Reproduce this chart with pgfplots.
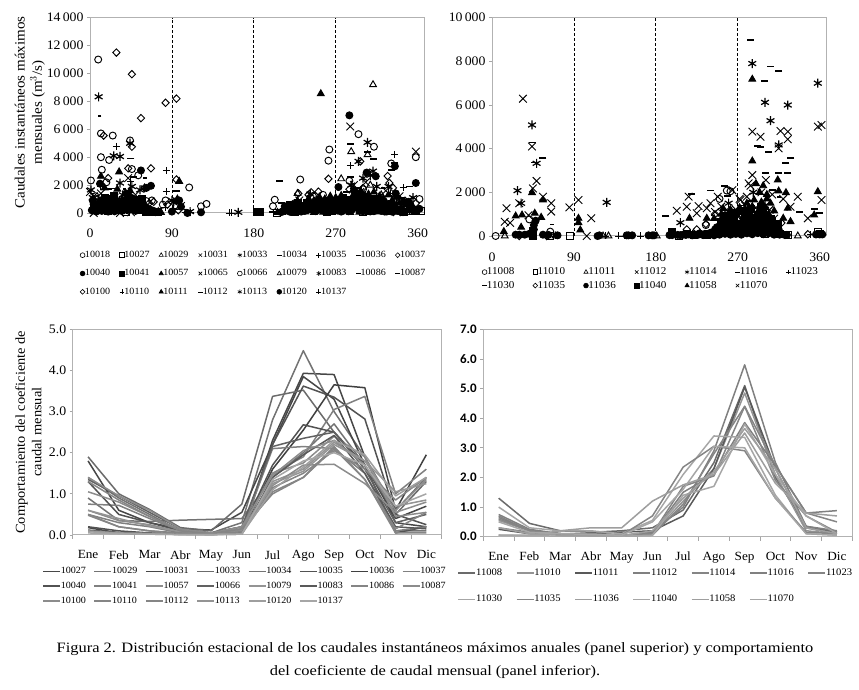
\documentclass[border=0pt]{standalone}
\usepackage{fontspec}
\setmainfont[FakeStretch=1.06]{Liberation Serif}
\newfontfamily\capf[FakeStretch=1.15]{Liberation Serif}
\newfontfamily\calibrif{Carlito}
\usepackage{pgfplots}
\pgfplotsset{compat=1.18}
\newcommand{\fs}[1]{\fontsize{#1}{#1}\selectfont}
\pgfplotsset{
  base/.style={scale only axis, clip=false, axis line style={draw=gray!60, line width=1pt},
    tick style={draw=gray!70, line width=.8pt}, tick pos=left, tick align=outside,
    major tick length=3pt, /pgf/number format/assume math mode=true, scaled y ticks=false,
    /pgf/number format/1000 sep={\,}, legend cell align=left},
  scat/.style={base, width=334pt, height=195.3pt, xmin=0, xmax=367,
    xtick={0,90,180,270,360}, x tick style={draw=none}, ymin=0,
    tick label style={font=\fs{13}}, xticklabel style={yshift=-9pt},
    legend image code/.code={\draw[mark repeat=2,mark phase=2,##1,mark size=2.4pt,line width=.6pt] plot coordinates {(0pt,0pt)(5pt,0pt)(10pt,0pt)};}},
  lin/.style={base, width=369pt, height=205.7pt, xmin=.5, xmax=12.5, ymin=0,
    xtick={1,...,12}, xticklabels={Ene,Feb,Mar,Abr,May,Jun,Jul,Ago,Sep,Oct,Nov,Dic},
    major x tick style={draw=none}, minor xtick={.5,1.5,...,12.5}, minor tick length=4pt,
    minor x tick style={draw=gray!70, line width=.8pt},
    xticklabel style={yshift=-9pt, font=\fs{12.5}},
    /pgf/number format/fixed, /pgf/number format/fixed zerofill, /pgf/number format/precision=1,
    legend image code/.code={\draw[##1] (0pt,0pt) -- (17pt,0pt);}},
  vl/.style={forget plot, densely dashed, black, line width=.7pt},
  m/.style={only marks, mark=#1, black, mark size=3.5pt, line width=.95pt},
  mt/.style={only marks, mark=#1, black, mark size=3.9pt, line width=.95pt},
  md/.style={only marks, mark=diamond, black, mark size=3.7pt, line width=.95pt, mark options={xscale=1.3}},
  mx/.style={only marks, mark=x, black, mark size=5.4pt, line width=.9pt},
  ms/.style={only marks, mark=asterisk, black, mark size=4.5pt, line width=1.2pt},
  thd/.style={only marks, mark=-, black, mark size=3.5pt, line width=1.8pt},
  smd/.style={only marks, mark=-, black, mark size=1.9pt, line width=1.8pt},
  ln/.style={line width=1.5pt, color=black!#1, line join=round, no markers},
}
\begin{document}
\begin{tikzpicture}
\useasboundingbox (0,0) rectangle (859pt,690pt);

% panel superior izquierdo
\begin{axis}[scat, at={(90pt,477pt)}, anchor=south west, ymax=14000,
  ytick={0,2000,...,14000},
  ylabel={Caudales instantáneos máximos\\[3pt]mensuales (m$^3$/s)},
  ylabel style={align=center, font=\fs{14.2}, at={(-.18,.515)}, anchor=center},
  legend columns=9,
  legend style={at={(-.03,-.195)}, anchor=north west, draw=none, fill=none, font=\fs{9.5}, inner sep=0pt,
    nodes={inner sep=0pt, outer sep=0pt}, row sep=10.5pt, /tikz/every even column/.append style={column sep=9.5pt}}]
\addplot[vl] coordinates {(90,0)(90,14000)};
\addplot[vl] coordinates {(180,0)(180,14000)};
\addplot[vl] coordinates {(270,0)(270,14000)};
\addplot[m=o] coordinates {(9,11000)(12,5700)(25,5550)(12,4000)(21,3800)(13,3100)(44,5200)(46,3150)(53,2700)(262,3750)(263,4550)(231,2400)(203,950)(201,480)(295,5650)(312,4750)(331,3550)(358,4000)(362,1000)(109,1830)(122,480)(128,650)(80,600)(1,2330)(5,800)(68,900)(83,900)(95,500)(225,700)(245,1200)(256,1300)(330,500)};%10018
\addplot[m=square] coordinates {(6,200)(20,150)(40,100)(70,50)(185,50)(205,30)(225,60)(260,100)(300,80)(345,100)(364,170)(355,120)};%10027
\addplot[mt=triangle] coordinates {(15,900)(30,600)(50,500)(75,100)(210,50)(228,1400)(250,800)(290,1000)(325,800)(350,300)};%10029
\addplot[mx] coordinates {(0,1500)(4,1200)(4,0)(33,0)(45,50)(100,500)(215,150)(238,400)(268,300)(297,1500)(330,100)(337,50)(350,900)};%10031
\addplot[ms] coordinates {(9.5,8330)(26,4100)(33,4050)(44,5000)(33,2150)(1,1650)(46,1900)(55,1650)(163,50)(305,5060)(295,3700)(311,3000)(90,900)};%10033
\addplot[thd] coordinates {(208,2270)(45,3900)(286,4950)(210,700)(200,50)(20,1700)};%10034
\addplot[m=+] coordinates {(29,4770)(84,3050)(84,1550)(44,2270)(153,0)(156,0)(286,3400)(335,4200)(344,1800)(330,1400)(12,1900)(95,800)};%10035
\addplot[smd] coordinates {(10.5,6950)(38,1700)(60,2500)(300,2400)(322,1800)};%10036
\addplot[md] coordinates {(29,11500)(46,9950)(56,6800)(83,7900)(95,8200)(15,5550)(46,4750)(67,3200)(20,2500)(95,2400)(262,2450)(327,2650)(329,2150)(229,1400)(243,1480)(251,1530)(297,3700)(333,1800)(285,1700)(70,800)(97,200)};%10037
\addplot[m=*] coordinates {(5,300)(10,700)(12,900)(15,500)(18,200)(22,650)(25,300)(28,800)(33,500)(38,900)(42,1300)(45,1100)(48,600)(52,750)(56,400)(60,200)(64,100)(68,80)(72,60)(11,2100)(56,3050)(67,1950)(107,0)(122,50)(100,450)
 (2,200)(7,100)(9,450)(13,150)(17,650)(20,100)(24,450)(27,120)(31,200)(35,150)(37,600)(41,200)(44,700)(47,300)(50,150)(54,300)(58,650)(62,400)(66,250)(70,150)
 (212,120)(218,200)(224,90)(230,260)(236,150)(242,320)(248,130)(254,280)(260,90)(266,350)(272,180)(278,300)(284,120)(290,380)(296,170)(302,310)(308,110)(314,280)(320,150)(326,240)(332,90)(338,160)(344,60)
 (285,7000)(304,2900)(314,2630)(273,1860)(335,3350)(358,2150)(290,1600)(297,1400)(336,1400)(345,800)(350,800)};%10040
\addplot[m=square*] coordinates {(183,50)(187,50)(8,300)(20,1000)(30,300)(45,500)(65,100)(75,50)
 (4,600)(11,350)(16,1100)(23,200)(26,1200)(34,800)(39,300)(43,1000)(49,950)(53,200)(57,1000)(61,100)
 (216,350)(220,600)(224,420)(228,750)(234,350)(240,500)(246,400)(252,520)(258,420)(264,560)(270,400)(276,620)(282,420)(288,640)(294,500)(300,660)(306,420)(312,560)(318,400)(324,380)(330,300)(336,200)
 (226,600)(232,500)(238,720)(244,640)(250,800)(256,700)(262,860)(268,760)(274,900)(280,800)(286,950)(292,850)(298,1100)(304,950)(310,1000)(316,800)(322,700)(328,600)(334,500)(352,300)(358,200)};%10041
\addplot[mt=triangle*] coordinates {(253.6,8550)(32,2950)(98,2270)(12,2630)(16,1800)(30,1700)(44,1600)(96,1000)
 (228,850)(240,950)(252,1150)(264,1200)(276,1250)(288,1150)(298,1500)(306,1350)(318,1200)(328,1300)
 (236,620)(246,850)(258,1000)(270,1100)(280,1000)(292,1300)(302,1250)(312,1500)(322,1000)(332,900)(340,700)};%10057
\addplot[mx] coordinates {(286,6200)(358,4400)(12,1400)(27,1100)(42,2500)(50,1300)(220,300)(230,900)(290,2000)(303,2200)(325,1600)(340,1200)};%10065
\addplot[m=o] coordinates {(6,1200)(18,2200)(34,900)(62,850)(97,800)(215,300)(248,900)(285,2300)(300,1700)(320,1100)(348,700)};%10066
\addplot[mt=triangle] coordinates {(311,9200)(276,2450)(287,4400)(305,4180)(308,2000)(320,1300)(240,1000)};%10079
\addplot[ms] coordinates {(3,1100)(16,700)(36,1300)(60,1800)(92,800)(242,1350)(287,2000)(300,2500)(315,1900)(335,1100)(346,500)};%10083
\addplot[smd] coordinates {(25,1000)(55,1200)(280,1300)(330,900)};%10086
\addplot[thd] coordinates {(331,3100)(335,3600)(351,1900)(95,1600)(305,4400)(311,3850)(286,2600)(28,1750)(48,2600)};%10087
\addplot[md] coordinates {(8,1000)(42,3200)(60,1800)(65,700)(85,600)(240,1300)(275,1000)(300,1800)(340,1000)(358,700)};%10100
\addplot[m=+] coordinates {(8,600)(22,1200)(58,500)(83,400)(110,50)(215,100)(255,600)(325,700)(338,300)};%10110
\addplot[mt=triangle*] coordinates {(5,100)(14,300)(26,150)(34,100)(47,200)(58,130)(68,60)(78,40)
 (206,40)(216,70)(226,40)(236,70)(246,40)(256,60)(266,30)(276,80)(286,40)(296,60)(306,30)(316,70)(326,40)(336,60)(346,30)(356,40)};%10111
\addplot[thd] coordinates {(14,1000)(36,700)(75,100)(282,1500)(295,1800)(342,1100)};%10112
\addplot[ms] coordinates {(4,500)(30,900)(50,900)(110,100)(260,800)(308,2700)(328,1900)(337,1100)(355,1100)};%10113
\addplot[m=*] coordinates {(3,900)(16,300)(24,1000)(40,1400)(55,700)(62,1800)(90,100)(98,900)
 (210,60)(216,200)(220,80)(226,250)(232,100)(240,230)(250,230)(258,120)(268,150)(276,100)(288,250)(300,130)(312,130)(324,100)(330,300)(340,150)
 (214,480)(222,420)(230,560)(238,450)(246,620)(254,500)(262,640)(270,520)(278,680)(286,560)(294,720)(302,600)(310,740)(318,560)(326,620)(334,420)(342,300)(352,600)(362,300)};%10120
\addplot[m=+] coordinates {(20,300)(35,1000)(62,300)(92,300)(105,60)(220,400)(270,1000)(315,1200)(355,400)};%10137
\legend{10018,10027,10029,10031,10033,10034,10035,10036,10037,10040,10041,10057,10065,10066,10079,10083,10086,10087,10100,10110,10111,10112,10113,10120,10137}
\end{axis}

% panel superior derecho
\begin{axis}[scat, at={(492pt,454pt)}, anchor=south west, height=218.3pt, ymax=10000,
  ytick={0,2000,...,10000}, xticklabel style={yshift=-1pt},
  legend columns=7,
  legend style={at={(-.03,-.145)}, anchor=north west, draw=none, fill=none, font=\fs{10.5}, inner sep=0pt,
    nodes={inner sep=0pt, outer sep=0pt}, row sep=5pt, /tikz/every even column/.append style={column sep=18.5pt}}]
\addplot[vl] coordinates {(90,0)(90,10000)};
\addplot[vl] coordinates {(180,0)(180,10000)};
\addplot[vl] coordinates {(270,0)(270,10000)};
\addplot[m=o] coordinates {(4,0)(41,760)(64,200)(314,350)(250,1700)(258,2080)(262,2050)(235,500)(285,600)};%11008
\addplot[m=square] coordinates {(86,0)(45,0)(64,0)(358,200)(325,50)(240,100)(300,100)(205,0)};%11010
\addplot[mt=triangle] coordinates {(14,0)(128,0)(122,0)(336,0)(181,0)(45,0)(70,0)(230,50)(265,50)};%11011
\addplot[mx] coordinates {(34,6290)(44,4100)(49,2520)(45,2180)(16,1270)(14,650)(30,1500)(56,1800)(65,1500)(65,1120)(85,1310)(95,1650)(109,810)(104,0)(203,1160)(214,1340)(216,1800)(227,1370)(225,1040)(236,1270)(248,1800)(264,2100)(273,1650)(286,4780)(295,4550)(317,4810)(325,4780)(325,4430)(315,4015)(336,1800)(347,810)(358,5010)(362,5085)(362,1650)(282,2410)(286,2790)(301,2560)(328,1340)(308,1900)(296,2000)(280,1800)(258,1200)(245,1100)(270,900)(290,1300)(305,1200)(320,1700)};%11012
\addplot[ms] coordinates {(44,5085)(28,2080)(32,1500)(49,3330)(126,1540)(207,610)(286,7900)(300,6120)(306,5280)(325,6000)(358,7000)(315,4170)(260,1500)(287,2000)(300,1400)};%11014
\addplot[thd] coordinates {(44,4280)(56,3590)(47,3370)(191,915)(219,1925)(240,2080)(255,2290)(259,1830)(284,8980)(306,7760)(315,7570)(299,7085)(292,4140)(295,4080)(304,3830)(328,3590)(323,3360)(300,2900)(325,2900)(315,2870)(338,1115)(354,1220)(360,1070)(308,2100)(285,1600)};%11016
\addplot[m=+] coordinates {(139,0)(146,0)(163,0)(173,0)(354,50)(350,50)(125,0)(70,0)(220,100)(280,200)(300,700)};%11023
\addplot[smd] coordinates {(66,530)(315,1800)(275,1400)(295,1200)};%11030
\addplot[md] coordinates {(347,80)(214,300)(225,300)(235,550)(300,300)(318,600)(60,0)(30,0)(262,900)(278,600)(245,1000)};%11035
\addplot[m=*] coordinates {(26,60)(30,60)(36,60)(41,100)(46,300)(46,500)(48,700)(56,60)(62,50)(72,30)(118,30)(116,0)(148,30)(150,30)(154,30)(172,30)(176,30)(178,30)(195,40)(207,40)(213,50)(220,30)(226,50)(232,40)(238,60)(244,30)(250,60)(256,100)(262,60)(268,100)(274,60)(280,120)(286,80)(292,130)(298,80)(304,120)(310,60)(316,60)(322,40)(356,70)(360,70)(363,70)(45,150)
 (240,150)(247,400)(255,350)(261,450)(267,500)(273,550)(279,550)(285,700)(291,700)(297,700)(303,650)(309,500)(315,300)(234,100)(228,120)(222,80)(216,70)(210,60)(204,50)(198,40)(324,50)(318,100)
 (245,300)(252,450)(258,280)(264,620)(270,380)(276,700)(282,450)(288,850)(294,550)(300,820)(306,500)(312,350)(250,180)(266,200)(282,200)(298,250)(314,150)};%11036
\addplot[m=square*] coordinates {(45,50)(45,250)(198,200)(214,80)(222,60)(236,40)(248,100)(256,180)(262,250)(268,350)(274,180)(280,320)(286,220)(292,400)(298,330)(304,240)(310,200)(316,100)(360,80)
 (252,650)(260,750)(268,1050)(276,1150)(284,700)(292,950)(300,500)(308,700)(314,550)(256,300)(272,250)(288,300)
 (258,500)(266,800)(274,560)(282,1000)(290,700)(298,1050)(306,800)(255,900)(263,1000)(285,1250)(295,1350)};%11040
\addplot[mt=triangle*] coordinates {(13,200)(26,915)(33,960)(32,400)(44,1985)(47,1040)(54,855)(56,1650)(95,810)(95,610)(97,275)(217,810)(236,810)(286,7180)(286,3435)(314,2565)(315,2060)(323,1985)(325,1270)(320,810)(328,660)(358,2030)(354,960)
 (254,1250)(266,1000)(278,1200)(286,1350)(302,1900)(298,1400)
 (290,2400)(294,2000)(298,2300)(302,1700)(306,1500)(296,1550)(288,1650)(280,1500)(272,1300)(262,1200)(252,1000)(244,800)(310,1150)(284,900)(292,1100)(300,1300)(268,700)(276,900)(304,1000)};%11058
\addplot[mx] coordinates {(20,600)(40,950)(240,1500)(252,1350)(268,1200)(278,1400)(290,1000)(300,600)(310,800)(254,700)(262,500)(272,1700)(284,2300)(275,400)(287,500)};%11070
\legend{11008,11010,11011,11012,11014,11016,11023,11030,11035,11036,11040,11058,11070}
\end{axis}

% panel inferior izquierdo
\begin{axis}[lin, at={(72.7pt,155pt)}, anchor=south west, ymax=5,
  ytick={0,1,...,5}, yticklabel style={font=\fs{13}},
  ylabel={Comportamiento del coeficiente de\\[3pt]caudal mensual},
  ylabel style={align=center, font=\fs{13.6}, at={(-.12,.5)}, anchor=center},
  legend columns=8,
  legend style={at={(-.083,-.157)}, anchor=north west, draw=none, fill=none, font=\fs{9.5}, inner sep=0pt,
    nodes={inner sep=0pt, outer sep=0pt}, row sep=7pt, /tikz/every even column/.append style={column sep=7.7pt}}]
\addplot[ln=72] coordinates {(1,.18)(2,.05)(3,.03)(4,.02)(5,.02)(6,.04)(7,2.3)(8,3.93)(9,3.90)(10,1.9)(11,.3)(12,.2)};
\addplot[ln=55] coordinates {(1,1.4)(2,.9)(3,.5)(4,.1)(5,.05)(6,.3)(7,2.8)(8,4.48)(9,3.0)(10,1.9)(11,.6)(12,1.4)};
\addplot[ln=72] coordinates {(1,1.8)(2,.6)(3,.3)(4,.15)(5,.12)(6,.55)(7,2.2)(8,3.85)(9,3.3)(10,1.7)(11,.4)(12,.7)};
\addplot[ln=58] coordinates {(1,1.9)(2,1.0)(3,.62)(4,.18)(5,.1)(6,.75)(7,3.37)(8,3.52)(9,2.5)(10,1.7)(11,.5)(12,1.3)};
\addplot[ln=55] coordinates {(1,.9)(2,.35)(3,.33)(4,.36)(5,.38)(6,.4)(7,1.4)(8,2.0)(9,2.7)(10,1.7)(11,.1)(12,.1)};
\addplot[ln=68] coordinates {(1,.2)(2,.1)(3,.05)(4,.03)(5,.02)(6,.05)(7,2.2)(8,3.62)(9,3.35)(10,2.82)(11,.5)(12,.25)};
\addplot[ln=75] coordinates {(1,.1)(2,.05)(3,.03)(4,.02)(5,.02)(6,.05)(7,1.6)(8,2.55)(9,3.65)(10,3.58)(11,.6)(12,1.95)};
\addplot[ln=50] coordinates {(1,.75)(2,.72)(3,.4)(4,.1)(5,.05)(6,.2)(7,1.5)(8,1.9)(9,3.05)(10,3.37)(11,1.0)(12,1.6)};
\addplot[ln=68] coordinates {(1,1.3)(2,.5)(3,.3)(4,.1)(5,.05)(6,.1)(7,1.7)(8,2.68)(9,2.5)(10,1.7)(11,.05)(12,.2)};
\addplot[ln=50] coordinates {(1,.5)(2,.3)(3,.2)(4,.05)(5,.02)(6,.1)(7,2.1)(8,2.15)(9,2.1)(10,1.5)(11,.1)(12,.2)};
\addplot[ln=45] coordinates {(1,.6)(2,.35)(3,.25)(4,.08)(5,.03)(6,.15)(7,1.5)(8,1.75)(9,2.4)(10,1.9)(11,.45)(12,.55)};
\addplot[ln=62] coordinates {(1,1.35)(2,.95)(3,.55)(4,.15)(5,.05)(6,.2)(7,2.15)(8,2.35)(9,2.5)(10,1.6)(11,.3)(12,.5)};
\addplot[ln=42] coordinates {(1,.6)(2,.4)(3,.22)(4,.08)(5,.02)(6,.1)(7,1.3)(8,1.6)(9,2.25)(10,1.8)(11,.7)(12,.85)};
\addplot[ln=65] coordinates {(1,.12)(2,.06)(3,.04)(4,.02)(5,.01)(6,.03)(7,1.4)(8,1.95)(9,2.42)(10,1.5)(11,.2)(12,.15)};
\addplot[ln=48] coordinates {(1,.5)(2,.2)(3,.1)(4,.04)(5,.02)(6,.08)(7,1.05)(8,1.4)(9,2.1)(10,1.35)(11,.05)(12,.05)};
\addplot[ln=45] coordinates {(1,1.05)(2,.8)(3,.45)(4,.12)(5,.03)(6,.15)(7,1.2)(8,1.7)(9,1.72)(10,1.25)(11,.55)(12,.8)};
\addplot[ln=45] coordinates {(1,1.4)(2,.95)(3,.6)(4,.15)(5,.05)(6,.2)(7,1.45)(8,2.05)(9,2.3)(10,1.7)(11,.6)(12,1.35)};
\addplot[ln=48] coordinates {(1,.48)(2,.2)(3,.1)(4,.05)(5,.02)(6,.05)(7,1.15)(8,1.5)(9,2.05)(10,1.6)(11,.85)(12,1.4)};
\addplot[ln=48] coordinates {(1,1.3)(2,.85)(3,.45)(4,.1)(5,.03)(6,.15)(7,1.0)(8,1.4)(9,2.15)(10,1.35)(11,.15)(12,.55)};
\addplot[ln=42] coordinates {(1,.1)(2,.05)(3,.04)(4,.01)(5,.01)(6,.02)(7,1.25)(8,1.55)(9,2.2)(10,1.8)(11,1.05)(12,1.25)};
\addplot[ln=38] coordinates {(1,.08)(2,.04)(3,.02)(4,.01)(5,.01)(6,.02)(7,1.1)(8,1.65)(9,2.3)(10,1.95)(11,.95)(12,1.4)};
\addplot[ln=35] coordinates {(1,.05)(2,.03)(3,.02)(4,.01)(5,.01)(6,.02)(7,1.35)(8,1.8)(9,2.0)(10,1.7)(11,.7)(12,1.0)};
\legend{10027,10029,10031,10033,10034,10035,10036,10037,10040,10041,10057,10066,10079,10083,10086,10087,10100,10110,10112,10113,10120,10137}
\end{axis}

% panel inferior derecho
\begin{axis}[lin, at={(483.3pt,153.3pt)}, anchor=south west, height=207.4pt, ymax=7,
  ytick={0,1,...,7}, yticklabel style={font=\calibrif\fs{13}\bfseries},
  legend columns=7,
  legend style={at={(-.07,-.155)}, anchor=north west, draw=none, fill=none, font=\fs{10}, inner sep=0pt,
    nodes={inner sep=0pt, outer sep=0pt}, row sep=18pt, /tikz/every even column/.append style={column sep=13.7pt}}]
\addplot[ln=58] coordinates {(1,1.3)(2,.45)(3,.2)(4,.15)(5,.2)(6,.3)(7,.9)(8,2.5)(9,5.1)(10,2.0)(11,.35)(12,.15)};
\addplot[ln=42] coordinates {(1,.55)(2,.2)(3,.1)(4,.08)(5,.05)(6,.1)(7,1.2)(8,2.3)(9,4.85)(10,2.1)(11,.2)(12,.1)};
\addplot[ln=65] coordinates {(1,.25)(2,.1)(3,.08)(4,.1)(5,.15)(6,.2)(7,.7)(8,2.3)(9,5.05)(10,2.3)(11,.3)(12,.1)};
\addplot[ln=50] coordinates {(1,.75)(2,.25)(3,.1)(4,.05)(5,.05)(6,.15)(7,1.0)(8,2.9)(9,5.8)(10,2.5)(11,.35)(12,.2)};
\addplot[ln=48] coordinates {(1,.7)(2,.2)(3,.1)(4,.05)(5,.03)(6,.05)(7,1.1)(8,2.8)(9,4.4)(10,2.4)(11,.8)(12,.5)};
\addplot[ln=50] coordinates {(1,.65)(2,.2)(3,.1)(4,.05)(5,.03)(6,.1)(7,1.5)(8,2.1)(9,3.85)(10,2.4)(11,.8)(12,.88)};
\addplot[ln=48] coordinates {(1,.3)(2,.15)(3,.1)(4,.05)(5,.03)(6,.1)(7,1.7)(8,2.05)(9,4.4)(10,1.9)(11,.7)(12,.15)};
\addplot[ln=35] coordinates {(1,1.0)(2,.3)(3,.2)(4,.2)(5,.1)(6,.55)(7,2.1)(8,3.4)(9,3.35)(10,1.4)(11,.1)(12,.05)};
\addplot[ln=48] coordinates {(1,.6)(2,.2)(3,.1)(4,.1)(5,.05)(6,.7)(7,2.35)(8,3.05)(9,2.9)(10,1.3)(11,.15)(12,.1)};
\addplot[ln=38] coordinates {(1,.05)(2,.05)(3,.2)(4,.3)(5,.3)(6,1.2)(7,1.75)(8,2.1)(9,3.5)(10,1.8)(11,.8)(12,.7)};
\addplot[ln=35] coordinates {(1,.05)(2,.03)(3,.02)(4,.02)(5,.02)(6,.05)(7,1.4)(8,1.7)(9,3.8)(10,2.1)(11,.7)(12,.1)};
\addplot[ln=38] coordinates {(1,.3)(2,.1)(3,.05)(4,.03)(5,.03)(6,.2)(7,1.3)(8,2.2)(9,3.65)(10,2.3)(11,.3)(12,.1)};
\addplot[ln=35] coordinates {(1,.5)(2,.15)(3,.1)(4,.08)(5,.05)(6,.5)(7,1.6)(8,3.05)(9,3.0)(10,1.3)(11,.1)(12,.05)};
\legend{11008,11010,11011,11012,11014,11016,11023,11030,11035,11036,11040,11058,11070}
\end{axis}

\node[font=\capf\fs{14.3}, align=center, anchor=center] at (435pt,29.5pt)
  {Figura 2. Distribución estacional de los caudales instantáneos máximos anuales (panel superior) y comportamiento\\[8pt]
   del coeficiente de caudal mensual (panel inferior).};
\end{tikzpicture}
\end{document}
